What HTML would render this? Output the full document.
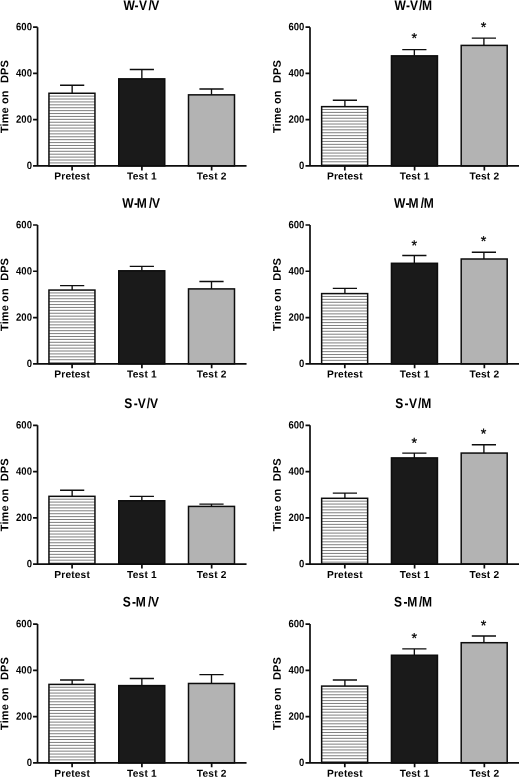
<!DOCTYPE html>
<html lang="en"><head><meta charset="utf-8"><title>Time on DPS</title>
<style>
html,body{margin:0;padding:0;background:#fff;}
body{width:520px;height:777px;overflow:hidden;}
svg{display:block;will-change:transform;}
text{font-family:"Liberation Sans",Arial,Helvetica,sans-serif;fill:#000;text-rendering:geometricPrecision;}
.t{font-size:14px;font-weight:bold;text-anchor:start;}
.yl{font-size:11px;font-weight:bold;text-anchor:middle;letter-spacing:0.08px;}
.tk{font-size:10.6px;font-weight:bold;text-anchor:end;}
.xl{font-size:10.2px;font-weight:bold;text-anchor:middle;letter-spacing:0.17px;}
.st{font-size:14.3px;text-anchor:middle;stroke:#000;stroke-width:0.25px;}
.ax{stroke:#0d0d0d;stroke-width:1.7;fill:none;}
.e{stroke:#0d0d0d;stroke-width:1.35;fill:none;}
.b{stroke:#0d0d0d;stroke-width:1.5;}
.h{stroke:#707070;stroke-width:0.9;fill:none;}
</style></head><body>
<svg width="520" height="777" viewBox="0 0 520 777">
<rect x="0" y="0" width="520" height="777" fill="#fff"/>
<g>
<text class="t" x="0 12.95 17.93 29.2 32.29" transform="translate(123.47 9.9) matrix(0.86 0.0006 0 1 0 0)">W-V/V</text>
<text class="yl" dx="0 0 0 0 0 0 0 0 0 1.2" transform="translate(8.25 96.58) rotate(-90) matrix(1 0.0006 0 1 0 0)">Time on&#160; DPS</text>
<path class="e" d="M72.15 93.26V85.23M60.05 85.23H84.25"/>
<rect x="48.95" y="93.26" width="46" height="72.64" fill="#fff"/>
<path class="h" d="M48.95 96.12H94.95M48.95 99.02H94.95M48.95 101.93H94.95M48.95 104.83H94.95M48.95 107.74H94.95M48.95 110.64H94.95M48.95 113.54H94.95M48.95 116.45H94.95M48.95 119.35H94.95M48.95 122.26H94.95M48.95 125.16H94.95M48.95 128.06H94.95M48.95 130.97H94.95M48.95 133.87H94.95M48.95 136.78H94.95M48.95 139.68H94.95M48.95 142.58H94.95M48.95 145.49H94.95M48.95 148.39H94.95M48.95 151.3H94.95M48.95 154.2H94.95M48.95 157.1H94.95M48.95 160.01H94.95M48.95 162.91H94.95"/>
<rect class="b" x="48.95" y="93.26" width="46" height="72.64" fill="none"/>
<path class="e" d="M141.85 78.85V69.46M129.75 69.46H153.95"/>
<rect class="b" x="118.75" y="78.85" width="46" height="87.05" fill="#1a1a1a"/>
<path class="e" d="M211.5 94.85V89M199.4 89H223.6"/>
<rect class="b" x="188.5" y="94.85" width="46" height="71.05" fill="#b3b3b3"/>
<path class="ax" d="M37.55 27.15V165.9H246.55M33.05 165.9H37.55M33.05 119.65H37.55M33.05 73.4H37.55M33.05 27.15H37.55M72.1 165.9V170.4M141.9 165.9V170.4M211.65 165.9V170.4"/>
<text class="tk" transform="translate(31.95 169.05) matrix(0.9 0.0006 0 1 0 0)">0</text>
<text class="tk" transform="translate(31.95 122.8) matrix(0.9 0.0006 0 1 0 0)">200</text>
<text class="tk" transform="translate(31.95 76.55) matrix(0.9 0.0006 0 1 0 0)">400</text>
<text class="tk" transform="translate(31.95 30.3) matrix(0.9 0.0006 0 1 0 0)">600</text>
<text class="xl" transform="translate(72.15 179.4) matrix(1 0.0006 0 1 0 0)">Pretest</text>
<text class="xl" transform="translate(141.95 179.4) matrix(1 0.0006 0 1 0 0)">Test 1</text>
<text class="xl" transform="translate(211.7 179.4) matrix(1 0.0006 0 1 0 0)">Test 2</text>
</g>
<g>
<text class="t" x="0 13.29 17.93 28.5 32" transform="translate(394.57 9.9) matrix(0.86 0.0006 0 1 0 0)">W-V/M</text>
<text class="yl" dx="0 0 0 0 0 0 0 0 0 1.2" transform="translate(280.75 96.58) rotate(-90) matrix(1 0.0006 0 1 0 0)">Time on&#160; DPS</text>
<path class="e" d="M344.9 106.65V100.2M332.8 100.2H357"/>
<rect x="321.65" y="106.65" width="46" height="59.25" fill="#fff"/>
<path class="h" d="M321.65 109.51H367.65M321.65 112.41H367.65M321.65 115.32H367.65M321.65 118.22H367.65M321.65 121.13H367.65M321.65 124.03H367.65M321.65 126.93H367.65M321.65 129.84H367.65M321.65 132.74H367.65M321.65 135.65H367.65M321.65 138.55H367.65M321.65 141.45H367.65M321.65 144.36H367.65M321.65 147.26H367.65M321.65 150.17H367.65M321.65 153.07H367.65M321.65 155.97H367.65M321.65 158.88H367.65M321.65 161.78H367.65M321.65 164.69H367.65"/>
<rect class="b" x="321.65" y="106.65" width="46" height="59.25" fill="none"/>
<path class="e" d="M414.35 55.85V49.56M402.25 49.56H426.45"/>
<rect class="b" x="391.45" y="55.85" width="46" height="110.05" fill="#1a1a1a"/>
<text class="st" transform="translate(414.35 42.9) matrix(1 0.0006 0 1 0 0)">*</text>
<path class="e" d="M483.9 45.4V38.1M471.8 38.1H496"/>
<rect class="b" x="461.2" y="45.4" width="46" height="120.5" fill="#b3b3b3"/>
<text class="st" transform="translate(483.6 32) matrix(1 0.0006 0 1 0 0)">*</text>
<path class="ax" d="M310 27.15V165.9H519M305.5 165.9H310M305.5 119.65H310M305.5 73.4H310M305.5 27.15H310M344.8 165.9V170.4M414.6 165.9V170.4M484.35 165.9V170.4"/>
<text class="tk" transform="translate(304.4 169.05) matrix(0.9 0.0006 0 1 0 0)">0</text>
<text class="tk" transform="translate(304.4 122.8) matrix(0.9 0.0006 0 1 0 0)">200</text>
<text class="tk" transform="translate(304.4 76.55) matrix(0.9 0.0006 0 1 0 0)">400</text>
<text class="tk" transform="translate(304.4 30.3) matrix(0.9 0.0006 0 1 0 0)">600</text>
<text class="xl" transform="translate(344.85 179.4) matrix(1 0.0006 0 1 0 0)">Pretest</text>
<text class="xl" transform="translate(414.65 179.4) matrix(1 0.0006 0 1 0 0)">Test 1</text>
<text class="xl" transform="translate(484.4 179.4) matrix(1 0.0006 0 1 0 0)">Test 2</text>
</g>
<g>
<text class="t" x="0 13.7 16.76 31.12 34.5" transform="translate(122.32 207.65) matrix(0.86 0.0006 0 1 0 0)">W-M/V</text>
<text class="yl" dx="0 0 0 0 0 0 0 0 0 1.2" transform="translate(8.25 294.45) rotate(-90) matrix(1 0.0006 0 1 0 0)">Time on&#160; DPS</text>
<path class="e" d="M72.15 290.07V285.63M60.05 285.63H84.25"/>
<rect x="48.95" y="290.07" width="46" height="73.73" fill="#fff"/>
<path class="h" d="M48.95 292.93H94.95M48.95 295.83H94.95M48.95 298.74H94.95M48.95 301.64H94.95M48.95 304.55H94.95M48.95 307.45H94.95M48.95 310.35H94.95M48.95 313.26H94.95M48.95 316.16H94.95M48.95 319.07H94.95M48.95 321.97H94.95M48.95 324.87H94.95M48.95 327.78H94.95M48.95 330.68H94.95M48.95 333.59H94.95M48.95 336.49H94.95M48.95 339.39H94.95M48.95 342.3H94.95M48.95 345.2H94.95M48.95 348.11H94.95M48.95 351.01H94.95M48.95 353.91H94.95M48.95 356.82H94.95M48.95 359.72H94.95M48.95 362.63H94.95"/>
<rect class="b" x="48.95" y="290.07" width="46" height="73.73" fill="none"/>
<path class="e" d="M141.85 270.8V266.33M129.75 266.33H153.95"/>
<rect class="b" x="118.75" y="270.8" width="46" height="93" fill="#1a1a1a"/>
<path class="e" d="M211.5 288.9V281.5M199.4 281.5H223.6"/>
<rect class="b" x="188.5" y="288.9" width="46" height="74.9" fill="#b3b3b3"/>
<path class="ax" d="M37.55 225V363.8H246.55M33.05 363.8H37.55M33.05 317.53H37.55M33.05 271.27H37.55M33.05 225H37.55M72.1 363.8V368.3M141.9 363.8V368.3M211.65 363.8V368.3"/>
<text class="tk" transform="translate(31.95 366.95) matrix(0.9 0.0006 0 1 0 0)">0</text>
<text class="tk" transform="translate(31.95 320.68) matrix(0.9 0.0006 0 1 0 0)">200</text>
<text class="tk" transform="translate(31.95 274.42) matrix(0.9 0.0006 0 1 0 0)">400</text>
<text class="tk" transform="translate(31.95 228.15) matrix(0.9 0.0006 0 1 0 0)">600</text>
<text class="xl" transform="translate(72.15 377.4) matrix(1 0.0006 0 1 0 0)">Pretest</text>
<text class="xl" transform="translate(141.95 377.4) matrix(1 0.0006 0 1 0 0)">Test 1</text>
<text class="xl" transform="translate(211.7 377.4) matrix(1 0.0006 0 1 0 0)">Test 2</text>
</g>
<g>
<text class="t" x="0 13.58 17.06 31.12 34.67" transform="translate(393.92 207.65) matrix(0.86 0.0006 0 1 0 0)">W-M/M</text>
<text class="yl" dx="0 0 0 0 0 0 0 0 0 1.2" transform="translate(280.75 294.45) rotate(-90) matrix(1 0.0006 0 1 0 0)">Time on&#160; DPS</text>
<path class="e" d="M344.9 293.6V288.34M332.8 288.34H357"/>
<rect x="321.65" y="293.6" width="46" height="70.2" fill="#fff"/>
<path class="h" d="M321.65 296.46H367.65M321.65 299.36H367.65M321.65 302.27H367.65M321.65 305.17H367.65M321.65 308.08H367.65M321.65 310.98H367.65M321.65 313.88H367.65M321.65 316.79H367.65M321.65 319.69H367.65M321.65 322.6H367.65M321.65 325.5H367.65M321.65 328.4H367.65M321.65 331.31H367.65M321.65 334.21H367.65M321.65 337.12H367.65M321.65 340.02H367.65M321.65 342.92H367.65M321.65 345.83H367.65M321.65 348.73H367.65M321.65 351.64H367.65M321.65 354.54H367.65M321.65 357.44H367.65M321.65 360.35H367.65"/>
<rect class="b" x="321.65" y="293.6" width="46" height="70.2" fill="none"/>
<path class="e" d="M414.35 263.3V255.45M402.25 255.45H426.45"/>
<rect class="b" x="391.45" y="263.3" width="46" height="100.5" fill="#1a1a1a"/>
<text class="st" transform="translate(414.35 250.25) matrix(1 0.0006 0 1 0 0)">*</text>
<path class="e" d="M483.9 259V252.2M471.8 252.2H496"/>
<rect class="b" x="461.2" y="259" width="46" height="104.8" fill="#b3b3b3"/>
<text class="st" transform="translate(483.6 245.9) matrix(1 0.0006 0 1 0 0)">*</text>
<path class="ax" d="M310 225V363.8H519M305.5 363.8H310M305.5 317.53H310M305.5 271.27H310M305.5 225H310M344.8 363.8V368.3M414.6 363.8V368.3M484.35 363.8V368.3"/>
<text class="tk" transform="translate(304.4 366.95) matrix(0.9 0.0006 0 1 0 0)">0</text>
<text class="tk" transform="translate(304.4 320.68) matrix(0.9 0.0006 0 1 0 0)">200</text>
<text class="tk" transform="translate(304.4 274.42) matrix(0.9 0.0006 0 1 0 0)">400</text>
<text class="tk" transform="translate(304.4 228.15) matrix(0.9 0.0006 0 1 0 0)">600</text>
<text class="xl" transform="translate(344.85 377.4) matrix(1 0.0006 0 1 0 0)">Pretest</text>
<text class="xl" transform="translate(414.65 377.4) matrix(1 0.0006 0 1 0 0)">Test 1</text>
<text class="xl" transform="translate(484.4 377.4) matrix(1 0.0006 0 1 0 0)">Test 2</text>
</g>
<g>
<text class="t" x="0 11.11 15.8 26.37 30.04" transform="translate(124.15 408) matrix(0.86 0.0006 0 1 0 0)">S-V/V</text>
<text class="yl" dx="0 0 0 0 0 0 0 0 0 1.2" transform="translate(8.25 494.75) rotate(-90) matrix(1 0.0006 0 1 0 0)">Time on&#160; DPS</text>
<path class="e" d="M72.15 496.33V490.2M60.05 490.2H84.25"/>
<rect x="48.95" y="496.33" width="46" height="67.77" fill="#fff"/>
<path class="h" d="M48.95 499.19H94.95M48.95 502.09H94.95M48.95 505H94.95M48.95 507.9H94.95M48.95 510.81H94.95M48.95 513.71H94.95M48.95 516.61H94.95M48.95 519.52H94.95M48.95 522.42H94.95M48.95 525.33H94.95M48.95 528.23H94.95M48.95 531.13H94.95M48.95 534.04H94.95M48.95 536.94H94.95M48.95 539.85H94.95M48.95 542.75H94.95M48.95 545.65H94.95M48.95 548.56H94.95M48.95 551.46H94.95M48.95 554.37H94.95M48.95 557.27H94.95M48.95 560.17H94.95M48.95 563.08H94.95"/>
<rect class="b" x="48.95" y="496.33" width="46" height="67.77" fill="none"/>
<path class="e" d="M141.85 500.77V496.4M129.75 496.4H153.95"/>
<rect class="b" x="118.75" y="500.77" width="46" height="63.33" fill="#1a1a1a"/>
<path class="e" d="M211.5 506.4V504.05M199.4 504.05H223.6"/>
<rect class="b" x="188.5" y="506.4" width="46" height="57.7" fill="#b3b3b3"/>
<path class="ax" d="M37.55 425.3V564.1H246.55M33.05 564.1H37.55M33.05 517.83H37.55M33.05 471.57H37.55M33.05 425.3H37.55M72.1 564.1V568.6M141.9 564.1V568.6M211.65 564.1V568.6"/>
<text class="tk" transform="translate(31.95 567.25) matrix(0.9 0.0006 0 1 0 0)">0</text>
<text class="tk" transform="translate(31.95 520.98) matrix(0.9 0.0006 0 1 0 0)">200</text>
<text class="tk" transform="translate(31.95 474.72) matrix(0.9 0.0006 0 1 0 0)">400</text>
<text class="tk" transform="translate(31.95 428.45) matrix(0.9 0.0006 0 1 0 0)">600</text>
<text class="xl" transform="translate(72.15 577.9) matrix(1 0.0006 0 1 0 0)">Pretest</text>
<text class="xl" transform="translate(141.95 577.9) matrix(1 0.0006 0 1 0 0)">Test 1</text>
<text class="xl" transform="translate(211.7 577.9) matrix(1 0.0006 0 1 0 0)">Test 2</text>
</g>
<g>
<text class="t" x="0 10.76 15.74 26.31 30.1" transform="translate(395.35 408) matrix(0.86 0.0006 0 1 0 0)">S-V/M</text>
<text class="yl" dx="0 0 0 0 0 0 0 0 0 1.2" transform="translate(280.75 494.75) rotate(-90) matrix(1 0.0006 0 1 0 0)">Time on&#160; DPS</text>
<path class="e" d="M344.9 498.3V493.1M332.8 493.1H357"/>
<rect x="321.65" y="498.3" width="46" height="65.8" fill="#fff"/>
<path class="h" d="M321.65 501.16H367.65M321.65 504.06H367.65M321.65 506.97H367.65M321.65 509.87H367.65M321.65 512.78H367.65M321.65 515.68H367.65M321.65 518.58H367.65M321.65 521.49H367.65M321.65 524.39H367.65M321.65 527.3H367.65M321.65 530.2H367.65M321.65 533.1H367.65M321.65 536.01H367.65M321.65 538.91H367.65M321.65 541.82H367.65M321.65 544.72H367.65M321.65 547.62H367.65M321.65 550.53H367.65M321.65 553.43H367.65M321.65 556.34H367.65M321.65 559.24H367.65M321.65 562.14H367.65"/>
<rect class="b" x="321.65" y="498.3" width="46" height="65.8" fill="none"/>
<path class="e" d="M414.35 457.9V453.17M402.25 453.17H426.45"/>
<rect class="b" x="391.45" y="457.9" width="46" height="106.2" fill="#1a1a1a"/>
<text class="st" transform="translate(414.35 447.65) matrix(1 0.0006 0 1 0 0)">*</text>
<path class="e" d="M483.9 453.07V444.7M471.8 444.7H496"/>
<rect class="b" x="461.2" y="453.07" width="46" height="111.03" fill="#b3b3b3"/>
<text class="st" transform="translate(483.6 438.5) matrix(1 0.0006 0 1 0 0)">*</text>
<path class="ax" d="M310 425.3V564.1H519M305.5 564.1H310M305.5 517.83H310M305.5 471.57H310M305.5 425.3H310M344.8 564.1V568.6M414.6 564.1V568.6M484.35 564.1V568.6"/>
<text class="tk" transform="translate(304.4 567.25) matrix(0.9 0.0006 0 1 0 0)">0</text>
<text class="tk" transform="translate(304.4 520.98) matrix(0.9 0.0006 0 1 0 0)">200</text>
<text class="tk" transform="translate(304.4 474.72) matrix(0.9 0.0006 0 1 0 0)">400</text>
<text class="tk" transform="translate(304.4 428.45) matrix(0.9 0.0006 0 1 0 0)">600</text>
<text class="xl" transform="translate(344.85 577.9) matrix(1 0.0006 0 1 0 0)">Pretest</text>
<text class="xl" transform="translate(414.65 577.9) matrix(1 0.0006 0 1 0 0)">Test 1</text>
<text class="xl" transform="translate(484.4 577.9) matrix(1 0.0006 0 1 0 0)">Test 2</text>
</g>
<g>
<text class="t" x="0 10.99 15.1 29.45 33.07" transform="translate(122.65 606.55) matrix(0.86 0.0006 0 1 0 0)">S-M/V</text>
<text class="yl" dx="0 0 0 0 0 0 0 0 0 1.2" transform="translate(8.25 693.5) rotate(-90) matrix(1 0.0006 0 1 0 0)">Time on&#160; DPS</text>
<path class="e" d="M72.15 684.4V679.95M60.05 679.95H84.25"/>
<rect x="48.95" y="684.4" width="46" height="78.45" fill="#fff"/>
<path class="h" d="M48.95 687.26H94.95M48.95 690.16H94.95M48.95 693.07H94.95M48.95 695.97H94.95M48.95 698.88H94.95M48.95 701.78H94.95M48.95 704.68H94.95M48.95 707.59H94.95M48.95 710.49H94.95M48.95 713.4H94.95M48.95 716.3H94.95M48.95 719.2H94.95M48.95 722.11H94.95M48.95 725.01H94.95M48.95 727.92H94.95M48.95 730.82H94.95M48.95 733.72H94.95M48.95 736.63H94.95M48.95 739.53H94.95M48.95 742.44H94.95M48.95 745.34H94.95M48.95 748.24H94.95M48.95 751.15H94.95M48.95 754.05H94.95M48.95 756.96H94.95M48.95 759.86H94.95"/>
<rect class="b" x="48.95" y="684.4" width="46" height="78.45" fill="none"/>
<path class="e" d="M141.85 685.6V678.54M129.75 678.54H153.95"/>
<rect class="b" x="118.75" y="685.6" width="46" height="77.25" fill="#1a1a1a"/>
<path class="e" d="M211.5 683.47V674.6M199.4 674.6H223.6"/>
<rect class="b" x="188.5" y="683.47" width="46" height="79.38" fill="#b3b3b3"/>
<path class="ax" d="M37.55 624.05V762.85H246.55M33.05 762.85H37.55M33.05 716.58H37.55M33.05 670.32H37.55M33.05 624.05H37.55M72.1 762.85V767.35M141.9 762.85V767.35M211.65 762.85V767.35"/>
<text class="tk" transform="translate(31.95 766) matrix(0.9 0.0006 0 1 0 0)">0</text>
<text class="tk" transform="translate(31.95 719.73) matrix(0.9 0.0006 0 1 0 0)">200</text>
<text class="tk" transform="translate(31.95 673.47) matrix(0.9 0.0006 0 1 0 0)">400</text>
<text class="tk" transform="translate(31.95 627.2) matrix(0.9 0.0006 0 1 0 0)">600</text>
<text class="xl" transform="translate(72.15 776.85) matrix(1 0.0006 0 1 0 0)">Pretest</text>
<text class="xl" transform="translate(141.95 776.85) matrix(1 0.0006 0 1 0 0)">Test 1</text>
<text class="xl" transform="translate(211.7 776.85) matrix(1 0.0006 0 1 0 0)">Test 2</text>
</g>
<g>
<text class="t" x="0 11.23 15.45 29.11 32.72" transform="translate(393.95 606.55) matrix(0.86 0.0006 0 1 0 0)">S-M/M</text>
<text class="yl" dx="0 0 0 0 0 0 0 0 0 1.2" transform="translate(280.75 693.5) rotate(-90) matrix(1 0.0006 0 1 0 0)">Time on&#160; DPS</text>
<path class="e" d="M344.9 686.1V680M332.8 680H357"/>
<rect x="321.65" y="686.1" width="46" height="76.75" fill="#fff"/>
<path class="h" d="M321.65 688.96H367.65M321.65 691.86H367.65M321.65 694.77H367.65M321.65 697.67H367.65M321.65 700.58H367.65M321.65 703.48H367.65M321.65 706.38H367.65M321.65 709.29H367.65M321.65 712.19H367.65M321.65 715.1H367.65M321.65 718H367.65M321.65 720.9H367.65M321.65 723.81H367.65M321.65 726.71H367.65M321.65 729.62H367.65M321.65 732.52H367.65M321.65 735.42H367.65M321.65 738.33H367.65M321.65 741.23H367.65M321.65 744.14H367.65M321.65 747.04H367.65M321.65 749.94H367.65M321.65 752.85H367.65M321.65 755.75H367.65M321.65 758.66H367.65M321.65 761.56H367.65"/>
<rect class="b" x="321.65" y="686.1" width="46" height="76.75" fill="none"/>
<path class="e" d="M414.35 655.25V648.85M402.25 648.85H426.45"/>
<rect class="b" x="391.45" y="655.25" width="46" height="107.6" fill="#1a1a1a"/>
<text class="st" transform="translate(414.35 642.95) matrix(1 0.0006 0 1 0 0)">*</text>
<path class="e" d="M483.9 642.7V636M471.8 636H496"/>
<rect class="b" x="461.2" y="642.7" width="46" height="120.15" fill="#b3b3b3"/>
<text class="st" transform="translate(483.6 630.25) matrix(1 0.0006 0 1 0 0)">*</text>
<path class="ax" d="M310 624.05V762.85H519M305.5 762.85H310M305.5 716.58H310M305.5 670.32H310M305.5 624.05H310M344.8 762.85V767.35M414.6 762.85V767.35M484.35 762.85V767.35"/>
<text class="tk" transform="translate(304.4 766) matrix(0.9 0.0006 0 1 0 0)">0</text>
<text class="tk" transform="translate(304.4 719.73) matrix(0.9 0.0006 0 1 0 0)">200</text>
<text class="tk" transform="translate(304.4 673.47) matrix(0.9 0.0006 0 1 0 0)">400</text>
<text class="tk" transform="translate(304.4 627.2) matrix(0.9 0.0006 0 1 0 0)">600</text>
<text class="xl" transform="translate(344.85 776.85) matrix(1 0.0006 0 1 0 0)">Pretest</text>
<text class="xl" transform="translate(414.65 776.85) matrix(1 0.0006 0 1 0 0)">Test 1</text>
<text class="xl" transform="translate(484.4 776.85) matrix(1 0.0006 0 1 0 0)">Test 2</text>
</g>
</svg>
</body></html>
